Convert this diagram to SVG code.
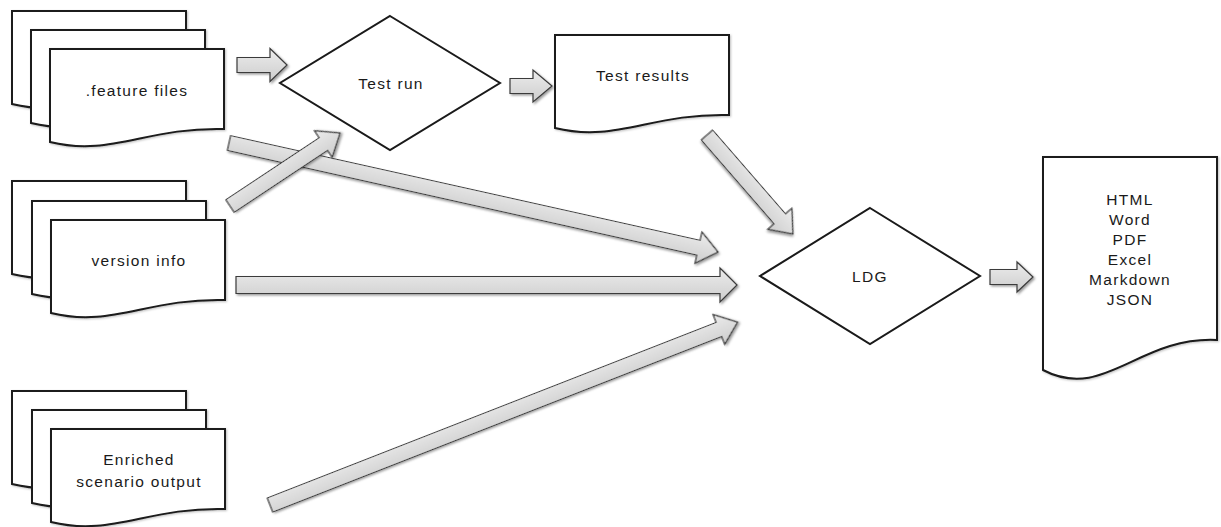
<svg xmlns="http://www.w3.org/2000/svg" xmlns:xlink="http://www.w3.org/1999/xlink" width="1221" height="527" viewBox="0 0 1221 527">
  <style>
    .doc { fill: #ffffff; stroke: #1a1a1a; stroke-width: 2; filter: url(#soft); }
    .dia { fill: #ffffff; stroke: #1a1a1a; stroke-width: 2; }
    .arr { fill: url(#arrFill); stroke: #3a3a3a; stroke-width: 1.2; stroke-linejoin: miter; filter: url(#shadow); }
    .lbl { font-family: "Liberation Sans", Arial, sans-serif; font-size: 15.5px; letter-spacing: 1.3px; fill: #1a1a1a; text-anchor: middle; }
  </style>
  <defs>
    <linearGradient id="arrFill" x1="0" y1="0" x2="0" y2="1">
      <stop offset="0" stop-color="#ececec"/>
      <stop offset="1" stop-color="#cdcdcd"/>
    </linearGradient>
    <filter id="shadow" x="-10%" y="-50%" width="120%" height="200%">
      <feDropShadow dx="1.5" dy="1.5" stdDeviation="1.2" flood-color="#000" flood-opacity="0.4"/>
    </filter>
    <filter id="soft" x="-10%" y="-10%" width="120%" height="120%">
      <feDropShadow dx="1" dy="1" stdDeviation="0.8" flood-color="#000" flood-opacity="0.25"/>
    </filter>
    <!-- document sheet with wavy bottom edge -->
    <path id="sheet" d="M0,0 H174 V80 C95.7,78 60.9,108 0,93 Z"/>
    <path id="tallSheet" d="M0,0 H174 V183 C95.7,179 60.9,245 0,213 Z"/>
  </defs>

  <rect width="1221" height="527" fill="#ffffff"/>

  <!-- nodes -->
  <g id="feature-files">
    <use xlink:href="#sheet" class="doc" x="12" y="11"/>
    <use xlink:href="#sheet" class="doc" x="31" y="30"/>
    <use xlink:href="#sheet" class="doc" x="50" y="49"/>
    <text class="lbl" x="137" y="96">.feature files</text>
  </g>

  <g id="version-info">
    <use xlink:href="#sheet" class="doc" x="12" y="181"/>
    <use xlink:href="#sheet" class="doc" x="32" y="201"/>
    <use xlink:href="#sheet" class="doc" x="51" y="220"/>
    <text class="lbl" x="139" y="266">version info</text>
  </g>

  <g id="enriched-output">
    <use xlink:href="#sheet" class="doc" x="12" y="391"/>
    <use xlink:href="#sheet" class="doc" x="32" y="410"/>
    <use xlink:href="#sheet" class="doc" x="51" y="429"/>
    <text class="lbl" x="139" y="465">Enriched</text>
    <text class="lbl" x="139" y="487">scenario output</text>
  </g>

  <g id="test-run">
    <polygon class="dia" points="390,16 500,83 390,150 280,83"/>
    <text class="lbl" x="391" y="89">Test run</text>
  </g>

  <g id="test-results">
    <use xlink:href="#sheet" class="doc" x="555" y="35"/>
    <text class="lbl" x="643" y="81">Test results</text>
  </g>

  <g id="ldg">
    <polygon class="dia" points="870,208 980,276 870,344 760,276"/>
    <text class="lbl" x="870" y="282">LDG</text>
  </g>

  <g id="output-formats">
    <use xlink:href="#tallSheet" class="doc" x="1043" y="157"/>
    <text class="lbl" x="1130" y="205">HTML</text>
    <text class="lbl" x="1130" y="225">Word</text>
    <text class="lbl" x="1130" y="245">PDF</text>
    <text class="lbl" x="1130" y="265">Excel</text>
    <text class="lbl" x="1130" y="285">Markdown</text>
    <text class="lbl" x="1130" y="305">JSON</text>
  </g>

  <!-- connectors: block arrows -->
  <g id="connectors">
    <path class="arr" transform="translate(237,65)" d="M0,-7.5 H33 V-16.5 L50,0 L33,16.5 V7.5 H0 Z"/>
    <path class="arr" transform="translate(510,86)" d="M0,-7.5 H23 V-16 L42,0 L23,16 V7.5 H0 Z"/>
    <path class="arr" transform="translate(990,277)" d="M0,-7.5 H27 V-15 L43,0 L27,15 V7.5 H0 Z"/>
    <path class="arr" transform="translate(229,143) rotate(12.57)" d="M0,-7.5 H481 V-16 L501,0 L481,16 V7.5 H0 Z"/>
    <path class="arr" transform="translate(230,206) rotate(-33.57)" d="M0,-7.5 H112 V-16 L132,0 L112,16 V7.5 H0 Z"/>
    <path class="arr" transform="translate(236,285)" d="M0,-8.5 H484 V-17 L501,0 L484,17 V8.5 H0 Z"/>
    <path class="arr" transform="translate(270,505) rotate(-21.36)" d="M0,-7.5 H482 V-16 L502,0 L482,16 V7.5 H0 Z"/>
    <path class="arr" transform="translate(707,135) rotate(49.02)" d="M0,-7.5 H111 V-16 L131,0 L111,16 V7.5 H0 Z"/>
  </g>
</svg>
